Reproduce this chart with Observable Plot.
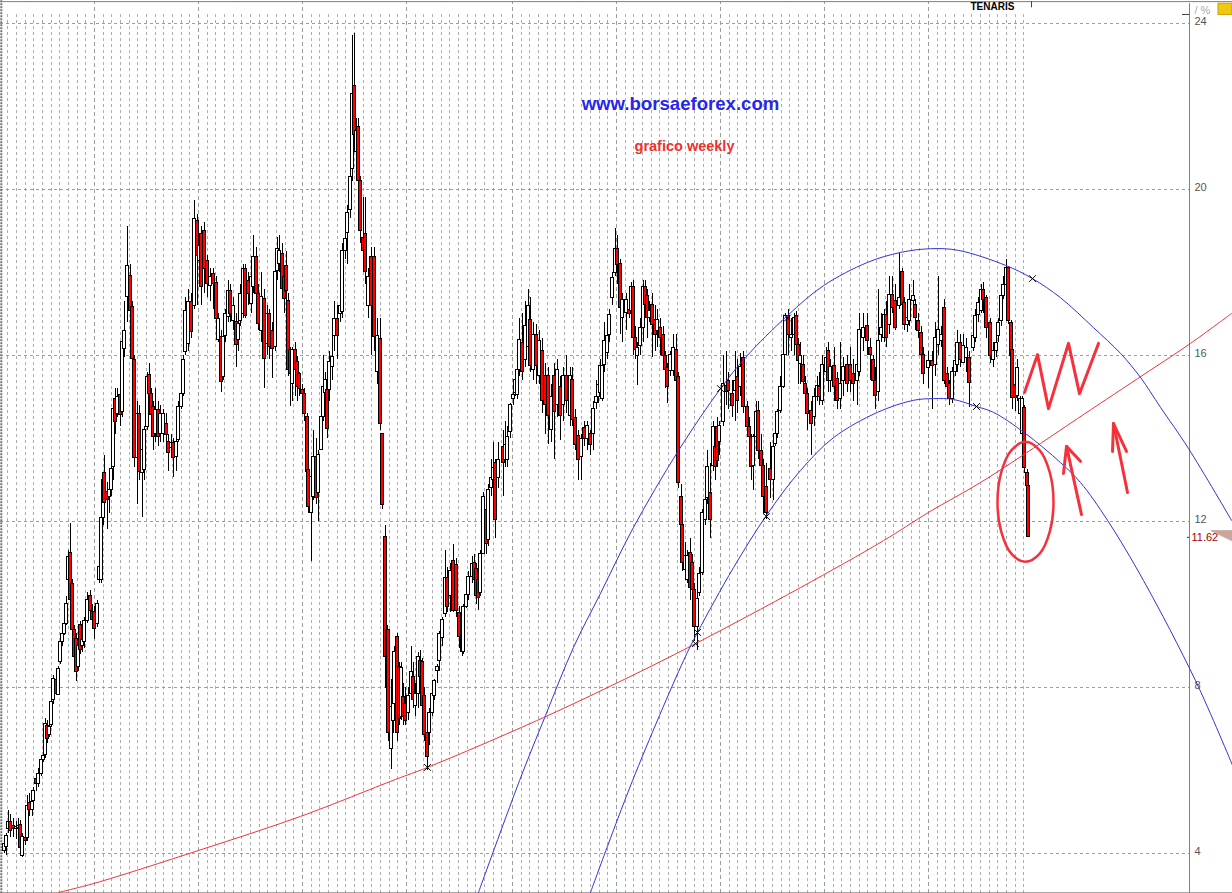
<!DOCTYPE html>
<html><head><meta charset="utf-8">
<style>html,body{margin:0;padding:0;background:#fff;overflow:hidden}svg{display:block}</style>
<script src="https://cdn.jsdelivr.net/npm/d3@7"></script>
<script src="https://cdn.jsdelivr.net/npm/@observablehq/plot@0.6"></script>
</head><body><div id="chart"></div>
<script>
const priceTicks=[24,20,16,12,8,4];
const yearWeeks=[45,97,149,201,254,306,358,410,462];
const weeks=[
0,1,2,3,4.5,6,7,8,9,10.5,
11.5,12.5,14,14.5,16,17,18.5,19.5,20.5,21.5,
22.5,23.5,24.5,26,27,28,29,30,31,32,
33,34,35,36,37,38,39,40,41.5,43,
44,45,46.5,47.5,48.5,49.5,50,51.5,52.5,53.5,
54.5,55.5,56.5,58,59,60,61.5,63,64,65,
66.5,67.5,69,70,71.5,72.5,73.5,74.5,75.5,77,
78,79.5,81,82,83.5,84.5,86,87,88.5,89.5,
90.5,92,93.5,95,96.5,97.5,98.5,100,101.5,103,
104.5,106,107,108.5,109.5,110.5,112,113,114.5,116,
117,118,119.5,120.5,122,123.5,124.5,126,127,128.5,
130,131.5,132.5,134,135.5,136.5,137.5,139,140,141,
142,143,144,145.5,146.5,147.5,149,150,151.5,152,
153.5,154.5,156,157,158.5,159.5,160.5,161.5,162.5,164,
165,166.5,168,169,170.5,171.5,173,174,175,176,
177,178,179.5,180.5,182,183.5,185,186.5,188,189,
190.5,191.5,192,193.5,194.5,195,196.5,197.5,198.5,199.5,
200.5,202,203.5,204.5,205.5,207,208,209,210,211.5,
212.5,214,215,216.5,217.5,219,220.5,221.5,223,224.5,
226,227.5,229,229.5,231,232,234,235,236,237,
238,239.5,241,242,243.5,244.5,245.5,247,249.5,250.5,
251.5,253,254.5,255.5,256.5,257.5,259,260.5,262,263,
264.5,266,267.5,269,270.5,272,273.5,275,276.5,278,
279.5,281,283,284,285.5,287,288.5,290,291.5,293,
294.5,296,297,298,299,300,301.5,302.5,304,305.5,
306.5,308,309,311,312.5,313.5,314.5,315.5,316.5,318,
319.5,320.5,321.5,322.5,324,325.5,326.5,328,329.5,330.5,
331.5,333,334.5,336,337,338.5,339,340.5,341.5,343,
344,345,346.5,347.5,349,350.5,351.5,353,354.5,355.5,
356.5,357.5,359.5,361,362,364,365.5,366.5,368,369.5,
371.5,372.5,373.5,374.5,376,377,378.5,379.5,381,383,
384.5,385.5,386.5,388,389.5,390.5,392,393.5,395,396,
397,398,399.5,400.5,401.5,403.5,405,406.5,407.5,409,
411,412,413,415,416.5,418,419.5,421.5,423,424.5,
426.5,427.5,429.5,431.5,433,434.5,435.5,437,438.5,440,
441,442.5,444,445.5,447.5,449,450,451.5,452.5,454.5,
455.5,457,458.5,459.5,462,464,465.5,467,468.5,470,
471.5,472.5,474,475.5,476.5,478,479.5,481,482.5,484.5,
485.5,487,488.5,489.5,491,493,494.5,496,497,498.5,
499.5,501,502,503.5,504,505.5,506.5,508,509,510,
511.5,512];
const opens=[
4.06,4.16,4.6,4.76,4.68,4.6,4.62,4.7,3.95,4.38,
4.38,5.22,5.06,5.28,5.8,5.68,5.92,6.25,6.37,7.07,
6.85,7.1,7.7,8.18,7.82,8.62,9.1,9.3,9.54,10.6,
11.24,10.5,9.38,9.18,8.5,9.5,9,9.1,9.6,10.2,
9.83,9.83,9.54,10.6,10.6,12.08,13.18,12.72,12.6,12.76,
13.32,14.96,14.6,15.04,14.64,16.16,17.4,17.92,17.16,15.9,
13.52,14.58,13.16,13.24,14.28,15.52,15.08,14.76,14.12,14.68,
14.12,14.1,14.36,13.92,13.76,13.88,13.56,13.96,14.76,15.08,
16.08,16.28,17.28,17.2,19.24,18.28,18.92,19,18.28,17.68,
17.96,17.74,16.36,16.44,15.48,16.48,16.92,17.54,16.84,16.8,
16.36,16.84,17,18.08,17.8,17.24,17.64,18.36,17.48,16.6,
17.36,16.28,17,16.6,16.2,18.04,18.2,18.44,17.88,18.16,
17.32,16.12,15.32,16.12,15.84,15.56,15.16,15.08,14.52,13.24,
12.2,12.6,13.56,12.68,13.72,14.52,15.1,15.16,15.16,15.72,
16.48,16.88,17,17.04,18.52,18.96,19.5,20.5,22.5,20.9,
21.5,20.2,18.84,18.92,17.2,18.36,18.36,15.6,16.4,14.12,
11.63,8,9.38,6.53,7.2,7.6,9.22,8.5,7.3,7.78,
7.6,7.38,7.85,8.25,7.55,7.85,8.65,8.62,7.8,6.9,
6.9,7.4,7.8,8.4,8.65,9.2,9.78,10.65,10.2,11.05,
10.95,9.8,9.22,8.86,9.95,10.22,10.67,11,10.85,10.6,
10.27,11.23,12.27,11.55,12.8,13,13.4,13.04,13.8,13.48,
13.48,14.16,14.96,15.1,15.05,15.65,16.3,15.9,16.2,16.85,
15.65,16.5,15.5,16.1,15.5,15.5,14.2,15.5,14.8,15.25,
14.8,15.5,14.55,15.4,14.5,14.05,13.55,14.25,14,14.1,
14.1,14.85,15,15.1,14.95,15.78,16.06,16.5,17.38,17.98,
18.57,18.2,16.9,17.02,17.1,17.06,17.66,16.42,15.98,16.22,
16.66,17.66,17.42,16.9,17.22,16.86,16.58,16.66,16.5,15.98,
15.7,15.63,15.63,16.14,15.47,12.6,11.92,10.84,10.6,11.24,
11,10.36,9.45,10.29,10.77,12.04,12.56,12.68,13.35,13.8,
14.27,13.91,14.39,15.27,15.39,15.07,15.15,15.47,15.23,15.94,
14.75,14.27,14.03,13.35,14.03,14.67,13.71,13.35,12.84,13.27,
13,13.87,14.11,14.67,15.23,16.02,16.94,16.42,16.5,16.94,
16.26,15.8,15.78,15.31,15.07,14.67,14.51,14.99,15.23,14.91,
15.59,16.1,15.39,15.75,15.43,14.95,15.39,15.78,15.78,15.55,
15.39,15.59,16.42,16.7,16.18,15.9,15.39,15.11,16.5,16.42,
16.98,16.74,17.46,17.3,17.2,18.02,17.26,16.74,16.82,17.3,
17.22,16.82,16.54,16.02,15.7,15.86,15.78,16.26,16.34,17.14,
15.55,15.31,14.95,15.59,15.78,16.3,15.82,15.94,15.94,16.18,
16.42,16.98,17.06,17.58,17.38,16.78,15.9,16.1,16.46,16.82,
17.42,17.7,18.1,16.78,16.14,15.3,15.02,14.58,14.1,14.74,
13.18,12.86];
const closes=[
4.24,4.44,4.76,4.56,4.6,4.64,4.66,4.15,4.4,4.32,
5.16,5.06,5.24,5.52,5.68,5.92,6.25,6.35,7.12,6.77,
7.05,7.65,8.2,7.85,8.46,9.1,9.3,9.54,10.02,11.15,
10.1,9.4,8.74,8.38,9,8.9,9.15,9.6,10.1,9.85,
9.62,9.42,10.02,10.9,12.08,13,12.44,12.52,12.76,13.26,
14.72,14.4,15,14.56,16.32,16.6,18.16,17.08,15.92,13.52,
14.6,13.2,13.72,14.2,15.48,15.08,14.56,14.04,14.68,14.04,
14.6,14.6,14.08,13.64,13.88,13.52,13.92,14.76,15.08,15.88,
17.08,17.28,16.56,19.28,18.4,18.64,17.64,18.08,17.72,17.88,
17.72,16.88,16.88,15.36,16.44,17,17.56,17,17.2,16.24,
16.76,17.48,18.08,16.96,17.48,17.88,18.36,17.48,16.76,17.4,
15.92,17,16.2,16.16,18,18.56,18.52,17.6,17.36,17.56,
15.64,15.56,16.12,15.64,15.24,15.2,15.08,14.6,13.2,12.36,
13.08,13.56,12.56,13.6,14.52,15.24,15.4,14.24,15.84,15.96,
16.88,16.48,17.2,18.52,18.8,19.44,20.3,22.3,21.3,21.4,
20.2,19,18.52,18,17.88,17.2,16.44,16.48,14.36,12.4,
8.74,9.4,6.9,7.53,8.18,8.85,6.9,7.25,8.48,7.3,
7.2,7.8,8.38,7.7,7.85,8.74,8.25,7.55,6.85,6.33,
7.4,7.85,8.15,8.5,9.3,9.62,10.65,9.95,10.82,9.85,
9.85,9.22,8.85,9.95,10.22,10.67,10.99,10.6,10.2,10.15,
11.23,12.6,11.47,12.75,13.04,13.3,12.03,13.48,13.4,13.84,
14.04,14.8,15.04,15.4,15.65,16.36,15.6,16.7,17.2,15.75,
16.5,15.75,16.35,14.9,14.8,14.55,15,14.65,15.65,14.55,
15.5,14.9,15.5,14.45,13.85,13.48,14,14,14.3,13.85,
14.7,15,15.3,15.75,15.75,16.34,16.46,16.98,17.86,18.57,
18.17,17.15,17.34,17.34,17,17.66,16.42,16.14,16.18,16.66,
17.66,17.22,16.9,17.06,16.74,16.5,16.86,16.42,15.98,15.66,
15.23,16.02,16.18,15.39,12.92,11.92,11,11.16,11.16,10.4,
10.36,9.45,10.13,10.73,12.2,12.52,13.31,12.04,14.27,13.31,
13.47,14.31,15.31,15.11,15.15,14.79,15.39,14.91,15.71,14.75,
14.27,14.03,13.31,14.03,14.63,13.71,13.35,12.6,12.2,13,
13.79,14.11,14.63,15.23,16.02,16.94,16.5,16.5,16.9,16.26,
15.87,15.98,15.35,15.07,14.59,14.35,14.99,15.27,14.99,15.78,
15.94,15.39,15.71,15.23,14.91,15.31,15.71,15.31,15.39,15.31,
15.78,16.62,16.66,16.34,16.02,15.39,15.03,16.34,16.66,16.98,
16.42,17.46,17.14,16.66,17.38,17.22,16.74,16.9,17.34,17.42,
16.9,16.58,16.02,15.55,15.86,15.74,16.42,16.62,16.5,15.39,
15.23,14.95,15.59,15.86,16.3,15.9,16.22,16.18,15.34,16.46,
16.94,17.26,17.58,17.34,16.66,15.98,16.1,16.3,16.78,17.42,
17.7,18.1,16.82,15.98,14.98,14.98,15.7,14.94,14.94,13.3,
12.86,11.64];
const highs=[
4.3,4.5,5.04,4.95,4.85,4.78,4.85,4.8,4.5,4.55,
5.4,5.45,5.35,5.6,5.9,6.05,6.35,6.45,7.25,7.2,
7.2,7.75,8.3,8.3,8.5,9.3,9.45,9.65,10.2,11.3,
11.95,10.6,9.5,9.3,9.1,9.6,9.3,9.7,10.3,10.35,
10,9.95,10.1,11,12.3,13.05,13.6,12.95,12.9,13.3,
14.8,15.2,15.2,15.3,16.4,17.3,19.1,18.2,17.3,16,
14.9,14.8,14,14.3,15.6,15.8,15.2,14.9,15.2,14.9,
14.8,14.7,14.6,14.1,14.1,14,14.1,14.9,15.2,16,
17.4,17.6,17.5,19.74,19.4,18.8,19.1,19.2,18.4,18.1,
18.1,17.9,17,16.6,16.6,17.1,17.8,17.7,17.4,17,
16.9,17.7,18.2,18.2,18,18,18.9,18.6,17.7,18,
17.6,17.2,17.1,16.8,18.2,18.84,18.9,18.7,18,18.5,
17.5,16.2,16.2,16.3,15.98,15.6,15.3,15.2,14.6,13.4,
13.2,14.2,14,13.7,15.1,16,15.6,15.7,16.1,16.5,
17.3,17.2,17.7,18.7,19.2,19.6,20.9,23.7,23.75,21.7,
21.7,20.3,19.8,19.8,18.1,18.6,18.6,16.9,16.9,14.12,
11.9,9.5,9.4,7.6,8.25,9,9.3,8.6,8.6,8.1,
8,8,9,8.6,8.1,8.85,8.9,8.7,8,7,
7.5,8,8.2,8.55,9.35,9.7,11.3,10.9,11,11.45,
11.1,9.95,9.3,10,10.3,10.8,11.15,11.2,11,10.7,
11.3,12.7,12.6,12.9,13.5,13.9,13.5,13.9,14.2,14.4,
14.3,14.85,15.2,15.6,15.9,16.9,17,17.3,17.6,17.4,
16.8,16.75,16.6,16.4,15.8,15.7,15.3,15.8,15.9,15.5,
15.7,16,15.7,15.7,14.7,14.2,14.1,14.4,14.4,14.2,
14.9,15.4,15.6,15.9,16,16.8,16.6,17.1,18,19.05,
18.9,18.3,17.5,17.5,17.3,17.75,17.8,16.7,16.3,16.9,
17.8,17.8,17.6,17.3,17.5,17.2,17.1,16.9,16.7,16.1,
15.8,16.1,16.5,16.5,15.6,12.9,12,11.5,11.3,11.6,
11.2,10.5,10.3,10.9,12.3,12.9,13.7,13.4,14.4,14.3,
14.5,14.4,16,16.1,15.6,15.4,16.1,15.9,16.05,16.1,
14.9,14.5,14.1,14.1,14.9,14.9,14.1,13.5,13.4,13.9,
13.9,14.2,14.7,15.5,16.2,17,17.1,16.9,17,17.05,
16.4,16.3,16,15.5,15.2,14.9,15.2,15.5,15.6,16,
16.2,16.3,15.9,16.2,15.6,16.3,15.95,16,16.2,15.9,
16.1,17,17,17,16.4,16,15.7,17.6,17,17.1,
17.3,17.9,17.9,17.7,18.45,18.1,17.4,17.2,17.7,17.8,
17.35,17,16.7,16.2,16.1,16.1,16.8,17.9,16.7,17.35,
15.7,15.4,15.7,16.3,16.6,16.5,16.5,16.4,16.1,16.7,
17.1,17.4,17.7,17.75,17.45,16.9,16.3,16.5,16.9,17.6,
17.9,18.3,18.15,16.85,16.2,15.4,15.9,15,15,14.8,
13.25,12.9];
const lows=[
4,3.95,4.5,4.4,4.4,4.35,4.45,4.1,3.9,4.2,
4.3,4.9,4.9,5.2,5.5,5.6,5.85,6.2,6.3,6.65,
6.8,7.05,7.6,7.8,7.8,8.55,9,9.25,9.5,10.5,
10,9.3,8.6,8.15,8.4,8.8,8.85,8.95,9.55,9.8,
9.5,9.15,9.45,10.5,10.5,11.9,12.2,11.8,12.2,12.6,
13,14.1,14.5,14.3,14.5,15.95,16.8,16.5,15.8,13.3,
12.4,13,12.1,13,14.2,14.9,14.2,13.7,13.9,13.8,
13.9,13.9,13.9,13.2,13.6,13.05,13.2,13.9,14.7,15,
16,16.1,16.4,17.1,17.2,18,17.2,17.5,17.4,17.3,
17.1,16.7,16.3,15.1,15.4,16.3,16.8,16.8,16.6,15.7,
16.1,16.7,16.9,16.9,17.2,17,17.5,17.3,16.6,16.3,
15.2,16,15.9,15.44,16.1,17.8,18,17.5,17,17.2,
15.5,14.76,14.9,15,14.9,15,15,14.4,13,12.2,
11.04,12.5,12.4,12,13.7,14.4,14.9,14,14.9,15.4,
16.1,15.9,16.8,16.9,18.3,18.2,19.3,20.2,20.9,20.6,
19.9,18.7,18.2,17.7,16.9,16,16.1,15.3,14.2,12.3,
8.6,7.9,6.7,6.03,6.9,7.5,6.7,7.1,7.2,7.1,
7.1,7.2,7.8,7.5,7.3,7.5,8,7.3,6.7,6,
6.6,7.3,7.7,8.1,8.4,9,9.7,9.8,9.8,9.8,
9.7,8.95,8.75,8.8,9.9,10.1,10.5,10.4,10,9.85,
10.2,11.2,11.2,11.4,12.6,12.7,11.6,12.8,12.6,13.3,
13.3,14,14.8,15,14.95,15.5,15.4,15.7,16,15.6,
15.4,15.3,15.3,14.6,14.1,13.85,13.9,13.5,14.5,13.95,
14.4,14.6,14.3,14.3,13.7,13,12.99,13.8,13.7,13.6,
13.7,14.7,14.85,15,14.9,15.6,15.9,16.3,17.2,17.9,
17.7,16.5,16.3,16.6,16.9,16.9,16,15.9,15.27,16,
16.3,16.9,16.4,16.8,15.95,16.1,16.2,16,15.8,15.2,
14.85,15.5,15.5,15.2,12.8,11.8,10.8,10.7,10.5,10.1,
10.1,9.1,8.9,10.2,10.7,11.9,12.4,11.6,13.2,13,
13.3,13.6,14.3,14.8,14.7,14.5,14.4,14.6,15,14.6,
14.1,13.5,13,12.75,13.7,13.5,13.1,12.2,12.05,12.55,
12.5,13.8,14,14.6,15.2,16,16,16.1,16,15.95,
15.3,15.3,15.2,14.9,14.2,13.6,14.3,14.9,14.8,14.8,
15.5,15.1,15.1,14.9,14.7,14.7,15,15.1,15.1,14.9,
14.8,15.5,16.1,16,15.4,15,14.7,14.9,16.3,16.3,
16.2,16.5,17,16.6,17.1,17,16.6,16.55,16.7,17,
16.6,16.4,15.9,15.3,15.2,14.7,15.5,16,16.2,15.3,
15,14.8,14.85,15.5,15.6,15.7,15.8,15.6,14.75,16.1,
16.3,16.8,17,17,16.4,15.8,15.7,15.95,16.3,16.7,
17.35,17.65,16.75,15.9,14.7,14.65,14.9,14.4,14,13.15,
12.75,11.62];
const upperArch=[[237,3.07],[257.5,5.76],[270.5,7.33],[284.5,8.97],[298,10.27],[314.5,11.86],[337,13.71],[358,15.2],[370.5,15.95],[391.5,16.96],[409.5,17.68],[431.5,18.24],[448,18.48],[463,18.57],[477,18.53],[500.5,18.17],[514,17.85],[528,17.39],[544.5,16.67],[558,16.05],[568,15.47],[578,14.75],[592,13.76],[613.5,12.03]];
const lowerArch=[[293,3.07],[314,5.76],[339.5,8.65],[346.5,9.33],[364.5,10.89],[381,12.15],[398,13.23],[414.5,14.02],[436.5,14.63],[454.5,14.92],[464.5,14.96],[474.5,14.94],[486,14.77],[494.5,14.63],[510.5,14.12],[528,13.42],[538,12.94],[551.5,12.03],[569.5,10.58],[595.5,8.17],[614,6.13]];
const trendLine=[[27,3.07],[45,3.29],[97,4.08],[148,4.9],[195.5,5.79],[211.5,6.08],[269.5,7.28],[318,8.39],[345.5,9.06],[398,10.41],[439.5,11.54],[462,12.22],[488,12.94],[518,13.88],[536.5,14.48],[566.5,15.44],[593,16.29],[613.5,17.01]];
const zigzag=[[510,15.11],[516.5,16.02],[522,14.72],[532,16.29],[537.5,15.08],[547,16.29]];
const arrowStrokes=[
 [[538.5,12.17],[531,13.81]],
 [[529.5,13.16],[531,13.81],[538,13.45]],
 [[561.5,12.7],[554.5,14.36]],
 [[554,13.69],[554.5,14.36],[561,13.69]]];
const circlePoints=[[524.5,12.47],[522.6,13.19],[517.5,13.72],[510.5,13.92],[503.5,13.72],[498.4,13.19],[496.5,12.47],[498.4,11.75],[503.5,11.22],[510.5,11.03],[517.5,11.22],[522.6,11.75]];
const crosses=[[211.5,6.08],[345.5,9.06],[346.5,9.33],[358,15.2],[391.5,16.9],[381,12.12],[486,14.77],[514,17.85]];
const lastPrice=11.62;
const markerTriangle=[[603.5,11.78],[614,11.78],[614,11.54]];

const candles=weeks.map((w,i)=>({w,o:opens[i],c:closes[i],h:highs[i],l:lows[i]})).filter(d=>d.o!=null&&d.c!=null&&d.h!=null&&d.l!=null);
const minorWeeks=[];
for(const y of [-7,...yearWeeks]) for(let k=0;k<12;k++){const m=y+k*52/12; if(m>=0&&m<=511&&(k>0||y<0)) minorWeeks.push(m);}
const pts=a=>a.map(([x,y])=>({x,y}));
const yBottom=3.04, yTop=24.47;
const chartFont="Liberation Sans";
const blueInk="#3232d8", handRed="#f5323c";
const crisp={shapeRendering:"crispEdges"};

const chart=Plot.plot({
  width:1232,height:893,marginLeft:0,marginTop:0,marginBottom:0,marginRight:43,
  style:{fontFamily:chartFont,background:"#fff"},
  x:{domain:[-2,592.5],axis:null},
  y:{domain:[3.044,24.547],axis:null},
  color:{type:"identity"},
  marks:[
    Plot.ruleX(minorWeeks,{y1:yBottom,y2:24.2,stroke:"#bba9c0",strokeDasharray:"3,9",strokeWidth:1,...crisp}),
    Plot.ruleX(minorWeeks,{y1:yBottom,y2:24.2,stroke:"#a3b0a3",strokeDasharray:"3,9",strokeDashoffset:6,strokeWidth:1,...crisp}),
    Plot.ruleX(yearWeeks,{y1:yBottom,y2:24.5,stroke:"#98a198",strokeDasharray:"4,3",strokeWidth:1,...crisp}),
    Plot.ruleY(priceTicks,{x1:-2,x2:592.5,stroke:"#98a198",strokeDasharray:"3,3",strokeWidth:1,...crisp}),
    Plot.ruleX([-1.6],{y1:yBottom,y2:yTop+0.07,stroke:"#6e786e",strokeWidth:2,strokeDasharray:"2,1"}),
    Plot.ruleY([24.52,3.06],{x1:-2,x2:614,stroke:"#7a7f7a",strokeWidth:1}),
    Plot.ruleX([592.5],{y1:yBottom,y2:24.47,stroke:"#808080",strokeWidth:1}),
    Plot.axisY(priceTicks,{anchor:"right",tickSize:0,tickPadding:5,dy:-2,fontSize:11,color:"#555",label:null}),
    Plot.ruleX(candles,{x:"w",y1:"l",y2:"h",stroke:"#000",strokeWidth:1,...crisp}),
    Plot.rect(candles,{x1:d=>d.w-0.75,x2:d=>d.w+0.75,y1:"o",y2:"c",fill:d=>d.c>=d.o?"#fff":"#f00",stroke:"#000",strokeWidth:1,...crisp}),
    Plot.line(pts(trendLine),{x:"x",y:"y",stroke:"#f0323c",strokeWidth:1,curve:"catmull-rom"}),
    Plot.line(pts(upperArch),{x:"x",y:"y",stroke:blueInk,strokeWidth:1,curve:"catmull-rom"}),
    Plot.line(pts(lowerArch),{x:"x",y:"y",stroke:blueInk,strokeWidth:1,curve:"catmull-rom"}),
    Plot.dot(pts(crosses),{x:"x",y:"y",symbol:"times",r:3.2,stroke:"#000",strokeWidth:1}),
    Plot.line(pts(zigzag),{x:"x",y:"y",stroke:handRed,strokeWidth:3}),
    ...arrowStrokes.map(a=>Plot.line(pts(a),{x:"x",y:"y",stroke:handRed,strokeWidth:3})),
    Plot.line(pts(circlePoints),{x:"x",y:"y",stroke:handRed,strokeWidth:2.5,curve:"catmull-rom-closed"}),
    Plot.text(["www.borsaeforex.com"],{x:338,y:22.06,fontSize:18.6,fontWeight:"bold",fill:"#2626ee"}),
    Plot.text(["grafico weekly"],{x:340,y:21.03,fontSize:14.5,fontWeight:"bold",fill:"#ee3030"}),
    Plot.text(["TENARIS"],{x:483,y:24.4,fontSize:10,fontWeight:"bold",fill:"#000",textAnchor:"start"}),
    Plot.ruleX([513.5],{y1:24.37,y2:24.52,stroke:"#444"}),
    Plot.ruleY([24.21],{x1:589,x2:592.5,stroke:"#444"}),
    Plot.ruleY([lastPrice],{x1:591.5,x2:592.5,stroke:"#a00"}),
    Plot.text([lastPrice],{x:593.5,y:lastPrice,text:d=>String(d),fontSize:11,fill:"#a80000",textAnchor:"start"}),
    Plot.line(pts(markerTriangle),{x:"x",y:"y",fill:"#c9a59c",stroke:"#c9a59c",strokeWidth:1,curve:"linear-closed"}),
    Plot.text(["/ %"],{x:595,y:24.3,fontSize:11,fill:"#aaa",textAnchor:"start"}),
    Plot.rect([0],{x1:607,x2:614,y1:24.2,y2:24.47,fill:"#f0c810",stroke:"#c8a000"})
  ]
});
document.getElementById("chart").appendChild(chart);
</script></body></html>
